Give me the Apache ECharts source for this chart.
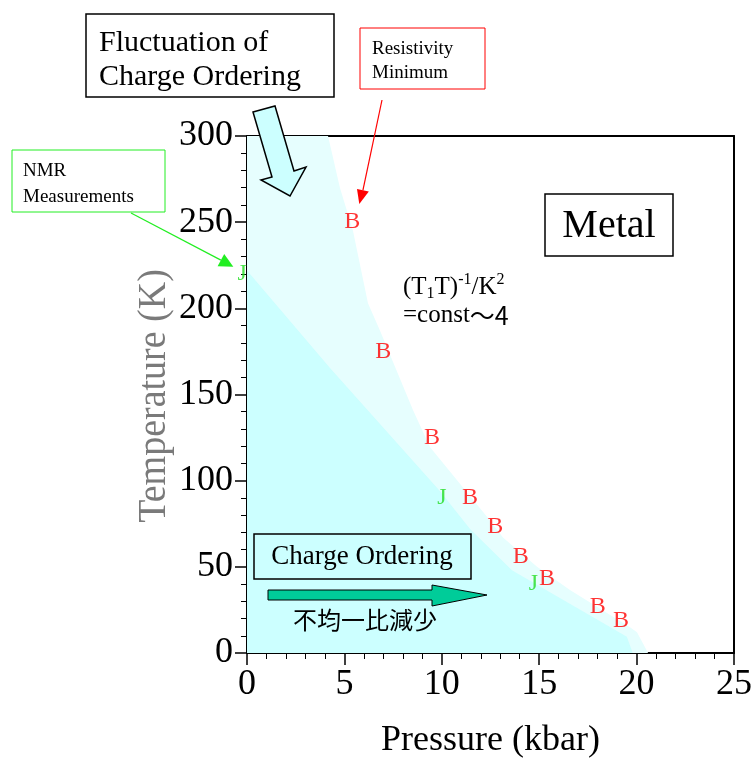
<!DOCTYPE html>
<html>
<head>
<meta charset="utf-8">
<script src="https://cdn.jsdelivr.net/npm/echarts@6/dist/echarts.min.js"></script>
<style>
  html, body { margin: 0; padding: 0; background: #fff; }
  #chart { width: 755px; height: 758px; }
</style>
</head>
<body>
<div id="chart"></div>
<script>
// boundary of the fluctuation (light) region, [kbar, K]
const fluctuationEdge = [
  [0, 300], [4.16, 300], [4.77, 270], [5.44, 245], [6.21, 203], [6.83, 187],
  [8.52, 141], [9.39, 119.5], [11.09, 96], [12.32, 79], [13.14, 67],
  [14.89, 50], [16.58, 36.6], [19.66, 15], [20.02, 12], [20.59, 0]
]
// boundary of charge ordering region
const orderingEdge = [
  [0, 222], [4.26, 165.4], [9.9, 94], [11.45, 72], [13.6, 48],
  [19.5, 9.5], [19.8, 0]
]
// resistivity minimum (B)
const resistivityMin = [
  [5.4, 250], [7, 175], [9.5, 125], [11.45, 90], [12.75, 73],
  [14.05, 56], [15.4, 43], [18, 27], [19.2, 19]
]
// NMR measurements (J)
const nmrPoints = [[-0.25, 220], [10, 90], [14.7, 40]]

const serif = '"Liberation Serif", "DejaVu Serif", serif'
const cjk = '"Noto Sans CJK JP", "Noto Sans CJK SC", sans-serif'

const chart = echarts.init(document.getElementById('chart'))

function letterSeries(name, data, letter, color) {
  return {
    name: name,
    type: 'scatter',
    data: data,
    clip: false,
    symbolSize: 1,
    itemStyle: { color: 'rgba(0,0,0,0)' },
    label: {
      show: true,
      position: 'inside',
      formatter: letter,
      color: color,
      fontFamily: serif,
      fontSize: 24
    },
    z: 5
  }
}

const option = {
  animation: false,
  grid: { left: 247, top: 136, right: 21, bottom: 105, outerBoundsMode: 'none', containLabel: false },
  xAxis: [{
    type: 'value',
    min: 0, max: 25, interval: 5,
    name: 'Pressure (kbar)',
    nameLocation: 'middle',
    nameGap: 70,
    nameTextStyle: { fontFamily: serif, fontSize: 36, color: '#000' },
    axisLine: { show: true, onZero: false, lineStyle: { color: '#000', width: 2 } },
    axisTick: { show: true, inside: false, length: 12, lineStyle: { color: '#000', width: 1.5 } },
    minorTick: { show: true, splitNumber: 5, length: 6, lineStyle: { color: '#000', width: 1 } },
    axisLabel: { fontFamily: serif, fontSize: 36, color: '#000', margin: 14 },
    splitLine: { show: false }
  }, {
    type: 'value', position: 'top', min: 0, max: 25,
    axisLine: { show: true, onZero: false, lineStyle: { color: '#000', width: 2 } },
    axisTick: { show: false }, axisLabel: { show: false }, splitLine: { show: false }
  }],
  yAxis: [{
    type: 'value',
    min: 0, max: 300, interval: 50,
    axisLine: { show: true, onZero: false, lineStyle: { color: '#000', width: 2 } },
    axisTick: { show: true, inside: false, length: 12, lineStyle: { color: '#000', width: 1.5 } },
    minorTick: { show: true, splitNumber: 5, length: 6, lineStyle: { color: '#000', width: 1 } },
    axisLabel: { fontFamily: serif, fontSize: 36, color: '#000', margin: 14 },
    splitLine: { show: false }
  }, {
    type: 'value', position: 'right', min: 0, max: 300,
    axisLine: { show: true, onZero: false, lineStyle: { color: '#000', width: 2 } },
    axisTick: { show: false }, axisLabel: { show: false }, splitLine: { show: false }
  }],
  series: [
    {
      name: 'Fluctuation of Charge Ordering',
      type: 'line',
      data: fluctuationEdge,
      showSymbol: false,
      lineStyle: { width: 0 },
      areaStyle: { color: '#e6fefe', opacity: 1 },
      z: 1
    },
    {
      name: 'Charge Ordering',
      type: 'line',
      data: orderingEdge,
      showSymbol: false,
      lineStyle: { width: 0 },
      areaStyle: { color: '#ccffff', opacity: 1 },
      z: 2
    },
    letterSeries('Resistivity Minimum', resistivityMin, 'B', '#ff0000'),
    letterSeries('NMR Measurements', nmrPoints, 'J', '#22dd22')
  ],
  graphic: [
    // y axis title
    {
      type: 'text', x: 154, y: 396, rotation: Math.PI / 2, scaleX: 0.95, z: 10,
      style: { text: 'Temperature (K)', font: '40px ' + serif, fill: '#7a7a7a', align: 'center', verticalAlign: 'middle' }
    },
    // Fluctuation of Charge Ordering box
    {
      type: 'rect', z: 10,
      shape: { x: 86, y: 14, width: 248, height: 83 },
      style: { fill: '#fff', stroke: '#000', lineWidth: 1.5 }
    },
    {
      type: 'text', x: 99, y: 26, z: 11,
      style: { text: 'Fluctuation of\nCharge Ordering', font: '30px ' + serif, lineHeight: 34, fill: '#000' }
    },
    // big cyan arrow
    {
      type: 'polygon', z: 10,
      shape: { points: [[253, 112], [275, 106], [294, 171], [306, 167], [290, 196], [261, 180], [272, 177]] },
      style: { fill: '#ccffff', stroke: '#000', lineWidth: 1.5 }
    },
    // Resistivity Minimum box
    {
      type: 'rect', z: 10,
      shape: { x: 360, y: 28, width: 125, height: 61 },
      style: { fill: '#fff', stroke: '#ff0000', lineWidth: 1 }
    },
    {
      type: 'text', x: 372, y: 37, z: 11,
      style: { text: 'Resistivity\nMinimum', font: '19px ' + serif, lineHeight: 24, fill: '#000' }
    },
    {
      type: 'line', z: 10,
      shape: { x1: 382, y1: 100, x2: 362.9, y2: 190.3 },
      style: { stroke: '#ff0000', lineWidth: 1.2 }
    },
    {
      type: 'polygon', z: 10,
      shape: { points: [[359.3, 204], [368.8, 191.5], [357.0, 189.1]] },
      style: { fill: '#ff0000' }
    },
    // NMR Measurements box
    {
      type: 'rect', z: 10,
      shape: { x: 12, y: 150, width: 153, height: 62 },
      style: { fill: '#fff', stroke: '#22ee22', lineWidth: 1 }
    },
    {
      type: 'text', x: 23, y: 158, z: 11,
      style: { text: 'NMR\nMeasurements', font: '19px ' + serif, lineHeight: 26, fill: '#000' }
    },
    {
      type: 'line', z: 10,
      shape: { x1: 131, y1: 213, x2: 220.9, y2: 260.1 },
      style: { stroke: '#22ee22', lineWidth: 1.2 }
    },
    {
      type: 'polygon', z: 10,
      shape: { points: [[233.3, 266.7], [217.6, 266.3], [224.2, 253.9]] },
      style: { fill: '#22ee22' }
    },
    // Metal box
    {
      type: 'rect', z: 10,
      shape: { x: 545, y: 194, width: 128, height: 62 },
      style: { fill: '#fff', stroke: '#000', lineWidth: 1.5 }
    },
    {
      type: 'text', x: 609, y: 226, z: 11,
      style: { text: 'Metal', font: '40px ' + serif, fill: '#000', align: 'center', verticalAlign: 'middle' }
    },
    // relaxation relation
    {
      type: 'text', x: 403, y: 272, z: 11,
      style: {
        text: '{b|(T}{sub|1}{b|T)}{sup|-1}{b|/K}{sup|2}\n{b|=const}{j|～4}',
        fill: '#000',
        rich: {
          b: { fontFamily: serif, fontSize: 25, lineHeight: 28, verticalAlign: 'bottom' },
          sub: { fontFamily: serif, fontSize: 16, lineHeight: 28, verticalAlign: 'bottom', padding: [0, 0, -2, 0] },
          sup: { fontFamily: serif, fontSize: 16, lineHeight: 28, verticalAlign: 'top' },
          j: { fontFamily: cjk, fontSize: 25, lineHeight: 28, verticalAlign: 'bottom' }
        }
      }
    },
    // Charge Ordering box
    {
      type: 'rect', z: 10,
      shape: { x: 254, y: 534, width: 217, height: 45 },
      style: { fill: '#ccffff', stroke: '#000', lineWidth: 1.5 }
    },
    {
      type: 'text', x: 362, y: 557, z: 11,
      style: { text: 'Charge Ordering', font: '27px ' + serif, fill: '#000', align: 'center', verticalAlign: 'middle' }
    },
    // teal arrow
    {
      type: 'polygon', z: 10,
      shape: { points: [[268, 590], [432, 590], [432, 585], [487, 595], [432, 606], [432, 600], [268, 600]] },
      style: { fill: '#00cc99', stroke: '#000', lineWidth: 1 }
    },
    {
      type: 'text', x: 365, y: 620, z: 11,
      style: { text: '不均一比減少', font: '24px ' + cjk, fill: '#000', align: 'center', verticalAlign: 'middle' }
    }
  ]
}

chart.setOption(option)
</script>
</body>
</html>
